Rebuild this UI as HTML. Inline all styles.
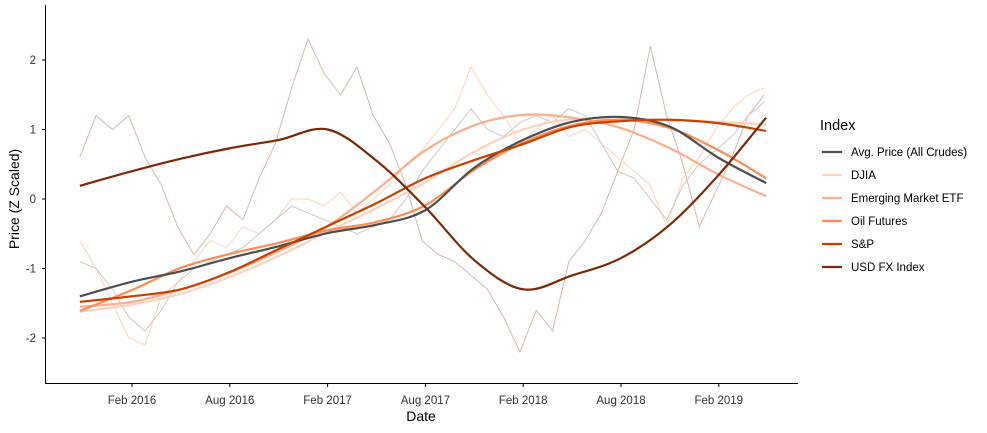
<!DOCTYPE html>
<html><head><meta charset="utf-8"><style>
body{margin:0;background:#fff;}
svg{display:block;font-family:"Liberation Sans",Arial,sans-serif;}
</style></head><body>
<svg id="chart" width="987" height="433">
<g id="raw"></g>
<g id="smooth"></g>
<g id="axes"></g>
<text x="421" y="421" text-anchor="middle" font-size="14" fill="#000">Date</text>
<text transform="translate(19,199) rotate(-90)" text-anchor="middle" font-size="14" fill="#000">Price (Z Scaled)</text>
<g id="legend">
<text x="820" y="130" font-size="14.5" fill="#000">Index</text>
</g>
</svg>
<script>
// categories / series
const seriesNames = ["Avg. Price (All Crudes)","DJIA","Emerging Market ETF","Oil Futures","S&P","USD FX Index"];
const seriesColors = ["#4d4d4d","#fdd3bd","#fdae8a","#fd8d57","#c94000","#7f2704"];
// smooth sample months (months since Feb 2016)
const smoothT = [-3.2,0,3,6,9,12,15,18,21,24,27,30,33,36,38.9];
const avgSmooth = [-1.4,-1.19,-1.04,-0.85,-0.68,-0.49,-0.37,-0.16,0.45,0.85,1.11,1.18,1.04,0.59,0.23];
const djiaSmooth = [-1.62,-1.52,-1.36,-1.12,-0.82,-0.47,-0.13,0.24,0.68,1.0,1.15,1.14,1.13,1.11,1.07];
const emSmooth = [-1.55,-1.48,-1.3,-1.06,-0.75,-0.39,0.13,0.7,1.06,1.21,1.17,1.02,0.73,0.35,0.04];
const oilSmooth = [-1.61,-1.31,-0.99,-0.79,-0.63,-0.45,-0.33,-0.09,0.42,0.81,1.06,1.14,1.02,0.7,0.3];
const spSmooth = [-1.48,-1.4,-1.3,-1.05,-0.72,-0.39,-0.06,0.3,0.56,0.79,1.04,1.12,1.14,1.09,0.98];
const usdSmooth = [0.19,0.4,0.58,0.73,0.85,1.0,0.55,-0.12,-0.88,-1.3,-1.1,-0.85,-0.37,0.35,1.17];
// raw monthly values starting at t=-3.2
const usdRaw = [0.6,1.2,1.0,1.2,0.6,0.2,-0.4,-0.8,-0.5,-0.1,-0.3,0.3,0.8,1.6,2.3,1.8,1.5,1.9,1.2,0.8,0.2,-0.6,-0.8,-0.9,-1.1,-1.3,-1.7,-2.2,-1.6,-1.9,-0.9,-0.6,-0.2,0.4,1.0,2.2,1.2,0.5,-0.4,0.1,0.6,1.2,1.5];
const djiaRaw = [-0.6,-1.0,-1.5,-2.0,-2.1,-1.4,-1.2,-0.9,-0.6,-0.7,-0.4,-0.5,-0.3,0.0,0.0,-0.1,0.1,-0.2,0.0,0.2,0.5,0.7,1.0,1.3,1.9,1.5,1.2,0.8,1.0,1.2,0.9,1.0,0.8,0.6,0.4,0.2,-0.4,0.3,0.6,1.0,1.3,1.5,1.6];
const avgRaw = [-0.9,-1.0,-1.3,-1.7,-1.9,-1.6,-1.2,-1.0,-0.9,-0.8,-0.7,-0.5,-0.3,-0.1,-0.2,-0.3,-0.4,-0.5,-0.4,-0.3,0.0,0.4,0.7,1.0,1.3,1.0,0.9,1.1,1.2,1.1,1.3,1.2,0.8,0.4,0.3,0.0,-0.3,0.2,0.5,0.7,0.9,1.2,1.4];
const yTicks = [-2,-1,0,1,2];
const xTickLabels = ["Feb 2016","Aug 2016","Feb 2017","Aug 2017","Feb 2018","Aug 2018","Feb 2019"];
const xTickMonths = [0,6,12,18,24,30,36];

const NS="http://www.w3.org/2000/svg";
function X(t){return 132+16.3*t;}
function Y(v){return 199-69.5*v;}
function mk(tag,attrs,parent){const e=document.createElementNS(NS,tag);for(const k in attrs)e.setAttribute(k,attrs[k]);parent.appendChild(e);return e;}
function smoothPath(ts,vs){
  const p=ts.map((t,i)=>[X(t),Y(vs[i])]);
  let d="M"+p[0][0]+","+p[0][1];
  for(let i=0;i<p.length-1;i++){
    const p0=p[i-1]||p[i],p1=p[i],p2=p[i+1],p3=p[i+2]||p2;
    const c1=[p1[0]+(p2[0]-p0[0])/6,p1[1]+(p2[1]-p0[1])/6];
    const c2=[p2[0]-(p3[0]-p1[0])/6,p2[1]-(p3[1]-p1[1])/6];
    d+=" C"+c1+" "+c2+" "+p2;
  }
  return d;
}
const rawG=document.getElementById('raw');
[[usdRaw,"#d9b8aa","raw-usd"],[djiaRaw,"#fdd3bd","raw-djia"],[avgRaw,"#cfc8c4","raw-avg"]].forEach(([arr,c,n])=>{
  const pts=arr.map((v,i)=>X(-3.2+i)+","+Y(v)).join(" ");
  const el=mk('polyline',{points:pts,fill:"none",stroke:c,"stroke-width":1},rawG);
  
  
});
const sm=document.getElementById('smooth');
const smoothData=[avgSmooth,djiaSmooth,emSmooth,oilSmooth,spSmooth,usdSmooth];
const order=[1,2,3,0,4,5];
order.forEach(i=>{
  const el=mk('path',{d:smoothPath(smoothT,smoothData[i]),fill:"none",stroke:seriesColors[i],"stroke-width":2.2},sm);
  
  
});
const ax=document.getElementById('axes');
mk('line',{x1:45.5,y1:5,x2:45.5,y2:383.5,stroke:"#000","stroke-width":1},ax);
mk('line',{x1:45,y1:383.5,x2:798,y2:383.5,stroke:"#000","stroke-width":1},ax);
yTicks.forEach(v=>{
  mk('line',{x1:42,x2:45,y1:Y(v),y2:Y(v),stroke:"#000"},ax);
  const t=mk('text',{x:36,y:Y(v)+4,"text-anchor":"end","font-size":11.5,fill:"#333"},ax);
  t.textContent=v;
  
  
});
xTickMonths.forEach((m,i)=>{
  mk('line',{x1:X(m),x2:X(m),y1:383,y2:387,stroke:"#000"},ax);
  const t=mk('text',{x:X(m),y:404,"text-anchor":"middle","font-size":11.5,fill:"#333"},ax);
  t.textContent=xTickLabels[i];
  
  
});
const lg=document.getElementById('legend');
seriesNames.forEach((n,i)=>{
  const y=152+23*i;
  const g=mk('g',{},lg);
  
  
  mk('line',{x1:822,x2:842,y1:y,y2:y,stroke:seriesColors[i],"stroke-width":2.2},g);
  const t=mk('text',{x:851,y:y+4,"font-size":11.5,fill:"#000"},g);
  t.textContent=n;
});
</script>
</body></html>
